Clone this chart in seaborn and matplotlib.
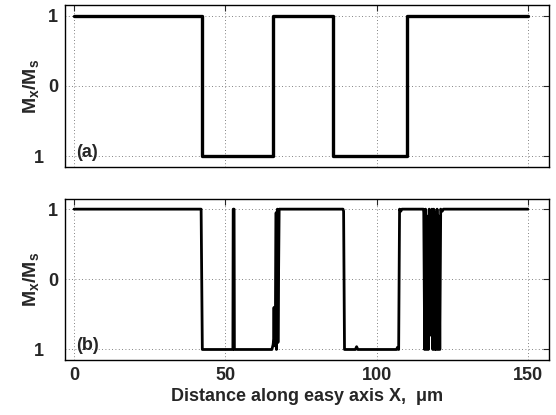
import numpy as np
import pandas as pd
import matplotlib
matplotlib.use("Agg")
import matplotlib.pyplot as plt
import seaborn as sns

# panel (a): domain walls (x positions, um) and Mx/Ms level of each domain
walls_a = [0, 42.2, 65.9, 85.6, 110.0, 150.0]
level_a = [1, -1, 1, -1, 1, 1]

# panel (b): traced vertices of the simulated profile
x_b = [0, 42.0, 42.4, 52.5, 52.6, 52.9, 53.0, 65.4, 65.8, 66.0, 66.1, 66.2, 66.5,
       66.8, 66.9, 67.2, 67.4, 67.8, 88.9, 89.1, 89.4, 93.0, 93.4, 93.8, 106.6,
       106.9, 107.3, 107.6, 108.0, 108.4,
       115.5, 115.6, 115.9, 116.2, 116.5, 116.8, 117.1, 117.4,
       117.6, 117.9, 118.1, 118.3,
       118.6, 118.9, 119.2, 119.5, 119.7,
       120.0, 120.3, 120.6, 120.9, 121.2, 121.7, 122.1, 150.0]
y_b = [1, 1, -1, -1, 1, 1, -1, -1, -0.93, -0.85, -0.4, -0.9, -0.95,
       0.95, -1, 1, -0.9, 1, 1, 0.97, -1, -1, -0.96, -1, -1,
       -0.97, -1, 1, 0.97, 1,
       1, 0.95, -1, 1, -1, 0.9, -1, 1,
       -0.6, 0.9, -0.8, 1,
       -1, 1, -1, 0.95, -1,
       1, -1, 0.9, -1, 1, 0.97, 1, 1]

xticks = [0, 50, 100, 150]
yticks = [-1, 0, 1]
# the minus sign of "-1" is lost in the original, only its space remains
ytick_labels = ["1\u2007\u2009", "0", "1"]

sns.set_style("white")
plt.rcParams["font.family"] = ["Liberation Sans", "DejaVu Sans"]
plt.rcParams["font.weight"] = "bold"
plt.rcParams["mathtext.fontset"] = "custom"
plt.rcParams["mathtext.rm"] = "Liberation Sans:bold"
plt.rcParams["mathtext.it"] = "Liberation Sans:bold"
plt.rcParams["mathtext.bf"] = "Liberation Sans:bold"
plt.rcParams["mathtext.default"] = "rm"

fig = plt.figure(figsize=(5.56, 4.15), dpi=100)
ax_a = fig.add_axes([0.1169, 0.598, 0.8705, 0.3896])
ax_b = fig.add_axes([0.1169, 0.1325, 0.8705, 0.3889])

df_a = pd.DataFrame({"x": walls_a, "m": level_a})
df_b = pd.DataFrame({"x": x_b, "m": y_b})

sns.lineplot(data=df_a, x="x", y="m", ax=ax_a, color="black", lw=2.4,
             estimator=None, sort=False, drawstyle="steps-post")
sns.lineplot(data=df_b, x="x", y="m", ax=ax_b, color="black", lw=2.0,
             estimator=None, sort=False)

for ax, tag in [(ax_a, "(a)"), (ax_b, "(b)")]:
    ax.set_xlim(-3, 157)
    ax.set_ylim(-1.15, 1.15)
    ax.set_xticks(xticks)
    ax.set_yticks(yticks)
    ax.set_yticklabels(ytick_labels)
    ax.grid(True, color="0.35", lw=0.6, linestyle=(0, (1, 3)))
    ax.tick_params(direction="in", length=4, width=0.8, top=True, right=True,
                   labelsize=13, pad=5)
    for sp in ax.spines.values():
        sp.set_color("black")
        sp.set_linewidth(1.0)
    ax.set_ylabel(r"$M_x/M_s$", fontsize=14, labelpad=-5)
    ax.text(0.022, 0.035, tag, transform=ax.transAxes, fontsize=13,
            fontweight="bold", ha="left", va="bottom")
    ax.set_xlabel("")

ax_a.tick_params(labelbottom=False)
ax_b.set_xlabel("Distance along easy axis X,  μm", fontsize=13, fontweight="bold", labelpad=3)

fig.savefig("out.png", dpi=100)
